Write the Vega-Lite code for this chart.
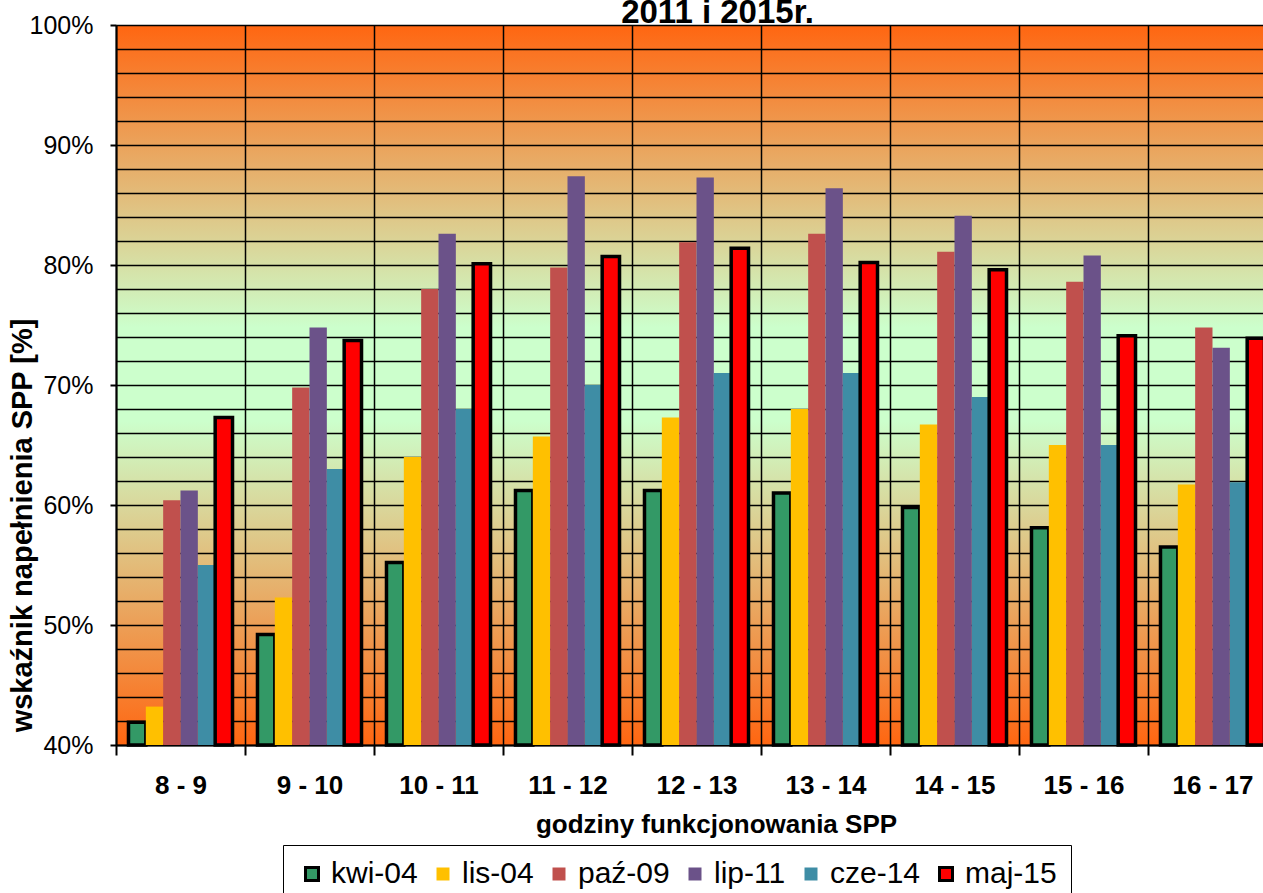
{
  "$schema": "https://vega.github.io/schema/vega-lite/v6.json",
  "autosize": "none",
  "width": 1147,
  "height": 720,
  "padding": {"left": 116, "top": 25, "right": 0, "bottom": 148},
  "background": "white",
  "config": {
    "font": "Liberation Sans",
    "view": {
      "stroke": null,
      "fill": {
        "gradient": "linear", "x1": 0, "y1": 0, "x2": 0, "y2": 1,
        "stops": [
          {"offset": 0, "color": "#FF6611"},
          {"offset": 0.42, "color": "#CCFFCC"},
          {"offset": 0.55, "color": "#CCFFCC"},
          {"offset": 1, "color": "#FF6611"}
        ]
      }
    }
  },
  "title": {
    "text": "2011 i 2015r.",
    "fontSize": 33,
    "fontWeight": "bold",
    "color": "black",
    "anchor": "middle",
    "frame": "group",
    "baseline": "alphabetic",
    "offset": -43,
    "dx": 28
  },
  "data": {
    "values": [
      {"h": "8 - 9", "s": "kwi-04", "v": 0.419},
      {"h": "8 - 9", "s": "lis-04", "v": 0.432},
      {"h": "8 - 9", "s": "paź-09", "v": 0.604},
      {"h": "8 - 9", "s": "lip-11", "v": 0.612},
      {"h": "8 - 9", "s": "cze-14", "v": 0.550},
      {"h": "8 - 9", "s": "maj-15", "v": 0.673},
      {"h": "9 - 10", "s": "kwi-04", "v": 0.492},
      {"h": "9 - 10", "s": "lis-04", "v": 0.523},
      {"h": "9 - 10", "s": "paź-09", "v": 0.698},
      {"h": "9 - 10", "s": "lip-11", "v": 0.748},
      {"h": "9 - 10", "s": "cze-14", "v": 0.630},
      {"h": "9 - 10", "s": "maj-15", "v": 0.737},
      {"h": "10 - 11", "s": "kwi-04", "v": 0.552},
      {"h": "10 - 11", "s": "lis-04", "v": 0.640},
      {"h": "10 - 11", "s": "paź-09", "v": 0.780},
      {"h": "10 - 11", "s": "lip-11", "v": 0.826},
      {"h": "10 - 11", "s": "cze-14", "v": 0.680},
      {"h": "10 - 11", "s": "maj-15", "v": 0.801},
      {"h": "11 - 12", "s": "kwi-04", "v": 0.612},
      {"h": "11 - 12", "s": "lis-04", "v": 0.657},
      {"h": "11 - 12", "s": "paź-09", "v": 0.798},
      {"h": "11 - 12", "s": "lip-11", "v": 0.874},
      {"h": "11 - 12", "s": "cze-14", "v": 0.700},
      {"h": "11 - 12", "s": "maj-15", "v": 0.807},
      {"h": "12 - 13", "s": "kwi-04", "v": 0.612},
      {"h": "12 - 13", "s": "lis-04", "v": 0.673},
      {"h": "12 - 13", "s": "paź-09", "v": 0.819},
      {"h": "12 - 13", "s": "lip-11", "v": 0.873},
      {"h": "12 - 13", "s": "cze-14", "v": 0.710},
      {"h": "12 - 13", "s": "maj-15", "v": 0.814},
      {"h": "13 - 14", "s": "kwi-04", "v": 0.610},
      {"h": "13 - 14", "s": "lis-04", "v": 0.680},
      {"h": "13 - 14", "s": "paź-09", "v": 0.826},
      {"h": "13 - 14", "s": "lip-11", "v": 0.864},
      {"h": "13 - 14", "s": "cze-14", "v": 0.710},
      {"h": "13 - 14", "s": "maj-15", "v": 0.802},
      {"h": "14 - 15", "s": "kwi-04", "v": 0.598},
      {"h": "14 - 15", "s": "lis-04", "v": 0.667},
      {"h": "14 - 15", "s": "paź-09", "v": 0.811},
      {"h": "14 - 15", "s": "lip-11", "v": 0.841},
      {"h": "14 - 15", "s": "cze-14", "v": 0.690},
      {"h": "14 - 15", "s": "maj-15", "v": 0.796},
      {"h": "15 - 16", "s": "kwi-04", "v": 0.581},
      {"h": "15 - 16", "s": "lis-04", "v": 0.650},
      {"h": "15 - 16", "s": "paź-09", "v": 0.786},
      {"h": "15 - 16", "s": "lip-11", "v": 0.808},
      {"h": "15 - 16", "s": "cze-14", "v": 0.650},
      {"h": "15 - 16", "s": "maj-15", "v": 0.741},
      {"h": "16 - 17", "s": "kwi-04", "v": 0.565},
      {"h": "16 - 17", "s": "lis-04", "v": 0.617},
      {"h": "16 - 17", "s": "paź-09", "v": 0.748},
      {"h": "16 - 17", "s": "lip-11", "v": 0.731},
      {"h": "16 - 17", "s": "cze-14", "v": 0.619},
      {"h": "16 - 17", "s": "maj-15", "v": 0.739}
    ]
  },
  "mark": {"type": "bar", "strokeWidth": 3.5, "strokeJoin": "miter"},
  "encoding": {
    "x": {
      "field": "h", "type": "nominal", "sort": null,
      "scale": {"range": [0, 1161], "paddingInner": 0, "paddingOuter": 0},
      "axis": {
        "title": "godziny funkcjonowania SPP",
        "titleFontSize": 26, "titleFontWeight": "bold", "titleColor": "black",
        "titleX": 600, "titleY": 87, "titleBaseline": "alphabetic",
        "labelAngle": 0, "labelFontSize": 26, "labelFontWeight": "bold", "labelColor": "black",
        "labelBaseline": "alphabetic", "labelPadding": 38,
        "tickBand": "extent", "tickSize": 10, "tickWidth": 2, "tickColor": "black",
        "domainColor": "black", "domainWidth": 2,
        "grid": true, "gridColor": "black", "gridWidth": 1.5, "gridOpacity": 1
      }
    },
    "xOffset": {
      "field": "s", "type": "nominal", "sort": ["kwi-04", "lis-04", "paź-09", "lip-11", "cze-14", "maj-15"],
      "scale": {"paddingInner": 0, "paddingOuter": 0.72}
    },
    "y": {
      "field": "v", "type": "quantitative",
      "scale": {"domain": [0.4, 1.0], "zero": false, "nice": false},
      "axis": {
        "title": "wskaźnik napełnienia SPP [%]",
        "titleFontSize": 29, "titleFontWeight": "bold", "titleColor": "black",
        "titleAngle": 270, "titleX": -94, "titleY": 500, "titleBaseline": "middle", "titleAlign": "center",
        "values": [0.4, 0.42, 0.44, 0.46, 0.48, 0.5, 0.52, 0.54, 0.56, 0.58, 0.6, 0.62, 0.64, 0.66, 0.68, 0.7, 0.72, 0.74, 0.76, 0.78, 0.8, 0.82, 0.84, 0.86, 0.88, 0.9, 0.92, 0.94, 0.96, 0.98, 1.0],
        "labelExpr": "abs(datum.value*10 - round(datum.value*10)) < 0.001 ? format(datum.value, '.0%') : ''",
        "labelFontSize": 25, "labelColor": "black", "labelPadding": 17,
        "tickSize": 6, "tickWidth": 2, "tickColor": "black",
        "tickOpacity": {"condition": {"test": "abs(datum.value*10 - round(datum.value*10)) < 0.001", "value": 1}, "value": 0},
        "domainColor": "black", "domainWidth": 2,
        "grid": true, "gridColor": "black", "gridWidth": 1.5, "gridOpacity": 1
      }
    },
    "y2": {"datum": 0.4},
    "color": {
      "field": "s", "type": "nominal",
      "sort": ["kwi-04", "lis-04", "paź-09", "lip-11", "cze-14", "maj-15"],
      "scale": {
        "domain": ["kwi-04", "lis-04", "paź-09", "lip-11", "cze-14", "maj-15"],
        "range": ["#339966", "#FFC000", "#C0504D", "#6B5289", "#3E8DA5", "#FF0000"]
      },
      "legend": {
        "title": null, "orient": "none", "direction": "horizontal",
        "legendX": 167, "legendY": 820,
        "labelFontSize": 30, "labelColor": "black", "labelOffset": 4,
        "symbolType": "square", "symbolSize": 169, "symbolStrokeWidth": 3, "symbolOpacity": 1,
        "columnPadding": 10, "padding": 14,
        "strokeColor": "black", "fillColor": "white"
      }
    },
    "stroke": {
      "field": "s", "type": "nominal",
      "sort": ["kwi-04", "lis-04", "paź-09", "lip-11", "cze-14", "maj-15"],
      "scale": {
        "domain": ["kwi-04", "lis-04", "paź-09", "lip-11", "cze-14", "maj-15"],
        "range": ["black", "transparent", "transparent", "transparent", "transparent", "black"]
      }
    }
  }
}
